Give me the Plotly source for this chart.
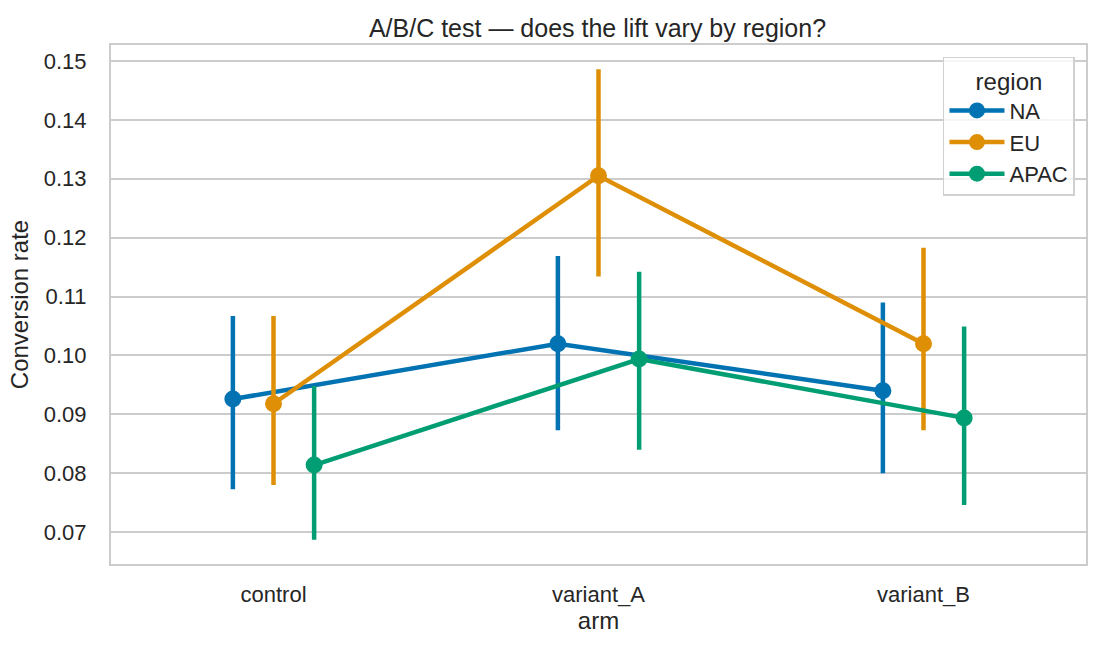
import plotly.graph_objects as go

arms = ["control", "variant_A", "variant_B"]
regions = ["NA", "EU", "APAC"]
colors = ["#0173b2", "#de8f05", "#029e73"]

mean_NA = [0.0926, 0.1020, 0.0940]
lo_NA = [0.0773, 0.0873, 0.0800]
hi_NA = [0.1067, 0.1169, 0.1090]

mean_EU = [0.0918, 0.1305, 0.1020]
lo_EU = [0.0780, 0.1134, 0.0873]
hi_EU = [0.1067, 0.1486, 0.1183]

mean_APAC = [0.0814, 0.0994, 0.0894]
lo_APAC = [0.0687, 0.0840, 0.0746]
hi_APAC = [0.0948, 0.1142, 0.1049]

series = {
    "NA": (mean_NA, lo_NA, hi_NA),
    "EU": (mean_EU, lo_EU, hi_EU),
    "APAC": (mean_APAC, lo_APAC, hi_APAC),
}

dodge = [-0.125, 0.0, 0.125]
font = "Liberation Sans, Arial, sans-serif"

fig = go.Figure()
for i, r in enumerate(regions):
    m, lo, hi = series[r]
    xs = [k + dodge[i] for k in range(len(arms))]
    # CI segments
    cx, cy = [], []
    for x, a, b in zip(xs, lo, hi):
        cx += [x, x, None]
        cy += [a, b, None]
    fig.add_trace(go.Scatter(x=cx, y=cy, mode="lines",
                             line=dict(color=colors[i], width=4.5),
                             showlegend=False, hoverinfo="skip"))
    fig.add_trace(go.Scatter(x=xs, y=m, mode="lines+markers", name=r,
                             line=dict(color=colors[i], width=4.5),
                             marker=dict(color=colors[i], size=17)))

fig.update_layout(
    width=1101, height=650,
    margin=dict(l=111, r=15, t=45, b=86),
    plot_bgcolor="white", paper_bgcolor="white",
    font=dict(family=font, size=22, color="#262626"),
    title=dict(text="A/B/C test — does the lift vary by region?",
               x=0.5427, xanchor="center", y=1 - 28/650, yanchor="middle",
               font=dict(size=25, color="#262626")),
    xaxis=dict(range=[-0.5, 2.5], tickmode="array", tickvals=[0, 1, 2],
               ticktext=arms, showgrid=False, zeroline=False,
               showline=True, mirror=True, linecolor="#cccccc", linewidth=2,
               ticks="", ticklabelstandoff=10,
               title=dict(text="arm", font=dict(size=24), standoff=2)),
    yaxis=dict(range=[0.0646, 0.1527], tickmode="array",
               tickvals=[0.07, 0.08, 0.09, 0.10, 0.11, 0.12, 0.13, 0.14, 0.15],
               ticktext=["0.07", "0.08", "0.09", "0.10", "0.11", "0.12", "0.13", "0.14", "0.15"],
               showgrid=True, gridcolor="#cccccc", gridwidth=1.5, zeroline=False,
               showline=True, mirror=True, linecolor="#cccccc", linewidth=2,
               ticks="", ticklabelstandoff=18,
               title=dict(text="Conversion rate", font=dict(size=24), standoff=8)),
    legend=dict(x=0.9887, xanchor="right", y=0.977, yanchor="top",
                bgcolor="rgba(255,255,255,0.8)", bordercolor="#d0d0d0", borderwidth=1.5,
                title=dict(text="region", side="top center", font=dict(size=24)),
                font=dict(size=22), itemwidth=55, tracegroupgap=0),
)

fig.write_html("out.html")
